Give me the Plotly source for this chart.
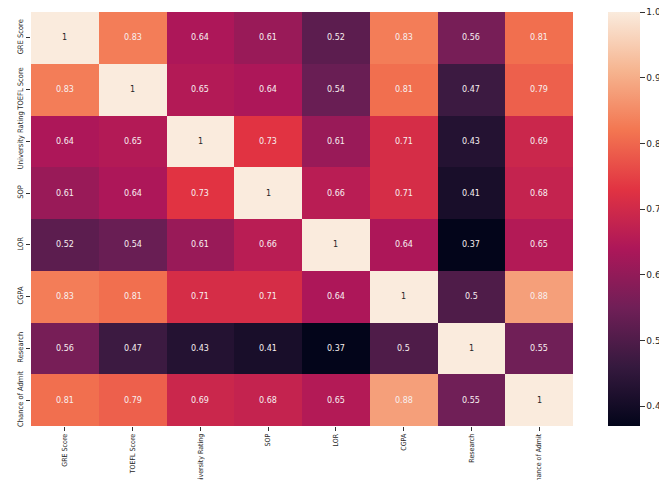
import plotly.graph_objects as go

labels = ["GRE Score", "TOEFL Score", "University Rating", "SOP", "LOR",
          "CGPA", "Research", "Chance of Admit"]

gre      = [1.00, 0.83, 0.64, 0.61, 0.52, 0.83, 0.56, 0.81]
toefl    = [0.83, 1.00, 0.65, 0.64, 0.54, 0.81, 0.47, 0.79]
univ     = [0.64, 0.65, 1.00, 0.73, 0.61, 0.71, 0.43, 0.69]
sop      = [0.61, 0.64, 0.73, 1.00, 0.66, 0.71, 0.41, 0.68]
lor      = [0.52, 0.54, 0.61, 0.66, 1.00, 0.64, 0.37, 0.65]
cgpa     = [0.83, 0.81, 0.71, 0.71, 0.64, 1.00, 0.50, 0.88]
research = [0.56, 0.47, 0.43, 0.41, 0.37, 0.50, 1.00, 0.55]
chance   = [0.81, 0.79, 0.69, 0.68, 0.65, 0.88, 0.55, 1.00]

z = [gre, toefl, univ, sop, lor, cgpa, research, chance]

cbar_ticks = [0.4, 0.5, 0.6, 0.7, 0.8, 0.9, 1.0]

rocket = [
    [0.0, "#03051a"],
    [1/7, "#35193e"],
    [2/7, "#701f57"],
    [3/7, "#ad1759"],
    [4/7, "#e13342"],
    [5/7, "#f37651"],
    [6/7, "#f6b48f"],
    [1.0, "#faebdd"],
]

zmin = min(min(r) for r in z)
zmax = max(max(r) for r in z)

W, H = 659, 480
L, R, T, B = 31, 86, 12, 54
plot_w = W - L - R

fig = go.Figure(go.Heatmap(
    z=z, x=labels, y=labels,
    colorscale=rocket, zmin=zmin, zmax=zmax,
    xgap=0, ygap=0,
    hoverinfo="skip",
    colorbar=dict(
        x=(608 - L) / plot_w, xanchor="left", xref="paper",
        y=0, yanchor="bottom", yref="paper",
        len=1.0, lenmode="fraction",
        thickness=32, thicknessmode="pixels",
        xpad=0, ypad=0,
        outlinewidth=0,
        tickvals=cbar_ticks,
        ticktext=[f"{v:.1f}" for v in cbar_ticks],
        ticks="outside", ticklen=5, tickcolor="#333333", tickwidth=1,
        tickfont=dict(family="DejaVu Sans", size=9, color="#262626"),
    ),
))

annotations = []
for i, row in enumerate(z):
    for j, v in enumerate(row):
        annotations.append(dict(
            x=labels[j], y=labels[i], xref="x", yref="y",
            text=format(v, ".2g"), showarrow=False,
            font=dict(family="DejaVu Sans", size=8,
                      color="#262626" if v >= 0.95 else "#f8f0f0"),
        ))

fam = "Liberation Sans Narrow, DejaVu Sans Condensed, Liberation Sans, sans-serif"

fig.update_layout(
    width=W, height=H,
    margin=dict(l=L, r=R, t=T, b=B, pad=0, autoexpand=False),
    paper_bgcolor="white", plot_bgcolor="white",
    annotations=annotations,
    xaxis=dict(tickangle=-90, ticks="outside", ticklen=4, tickcolor="#333333",
               tickfont=dict(family=fam, size=7, color="#262626"),
               showgrid=False, zeroline=False, showline=False, automargin=False),
    yaxis=dict(autorange="reversed", tickangle=-90, ticks="outside", ticklen=4,
               tickcolor="#333333", tickfont=dict(family=fam, size=7.5, color="#262626"),
               showgrid=False, zeroline=False, showline=False, automargin=False),
)

fig.write_html(
    "out.html",
    config={"displayModeBar": False},
    post_script="document.body.style.margin='0';document.body.style.overflow='hidden';",
)
